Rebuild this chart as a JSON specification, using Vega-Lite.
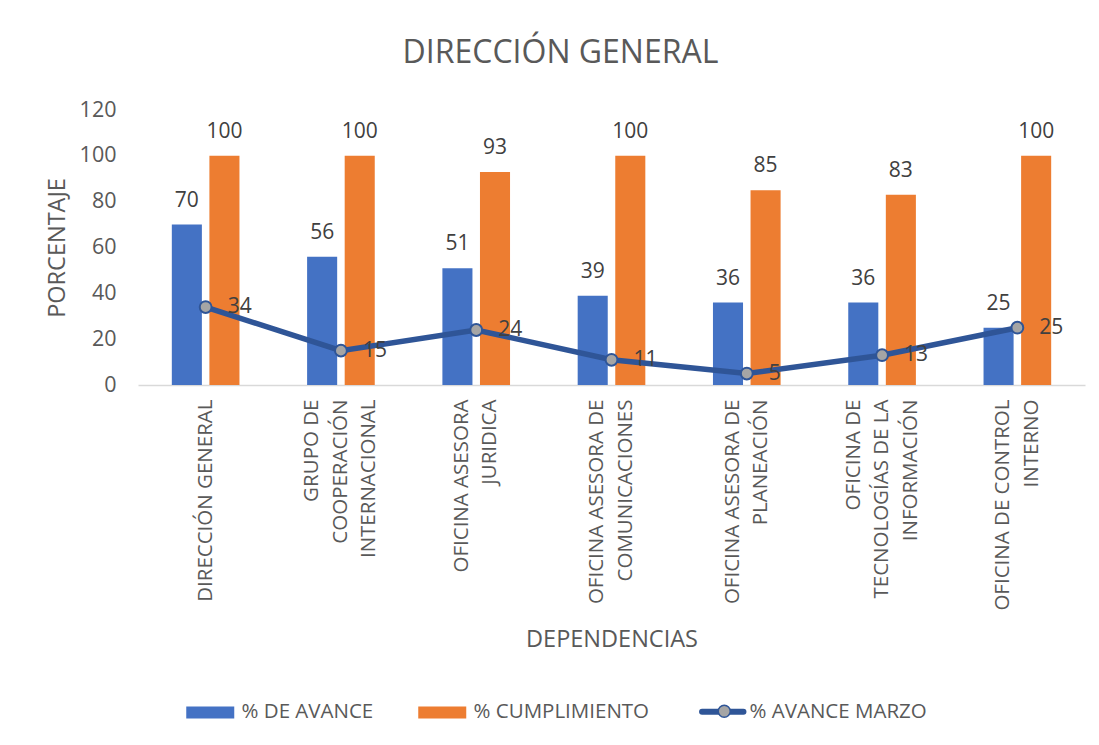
{
  "$schema": "https://vega.github.io/schema/vega-lite/v6.json",
  "width": 947,
  "height": 275,
  "autosize": {"type": "none"},
  "padding": {"left": 138, "top": 110, "right": 14, "bottom": 360},
  "background": "white",
  "config": {"font": "Open Sans", "view": {"stroke": null}},
  "title": {"text": "DIRECCIÓN GENERAL", "fontSize": 32, "fontWeight": "normal", "color": "#595959", "anchor": "middle", "frame": "group", "dx": -51, "offset": 4, "baseline": "alphabetic"},
  "data": {"values": [
    {"dep": "DIRECCIÓN GENERAL", "serie": "% DE AVANCE", "valor": 70},
    {"dep": "DIRECCIÓN GENERAL", "serie": "% CUMPLIMIENTO", "valor": 100},
    {"dep": "DIRECCIÓN GENERAL", "serie": "% AVANCE MARZO", "valor": 34},
    {"dep": "GRUPO DE|COOPERACIÓN|INTERNACIONAL", "serie": "% DE AVANCE", "valor": 56},
    {"dep": "GRUPO DE|COOPERACIÓN|INTERNACIONAL", "serie": "% CUMPLIMIENTO", "valor": 100},
    {"dep": "GRUPO DE|COOPERACIÓN|INTERNACIONAL", "serie": "% AVANCE MARZO", "valor": 15},
    {"dep": "OFICINA ASESORA|JURIDICA", "serie": "% DE AVANCE", "valor": 51},
    {"dep": "OFICINA ASESORA|JURIDICA", "serie": "% CUMPLIMIENTO", "valor": 93},
    {"dep": "OFICINA ASESORA|JURIDICA", "serie": "% AVANCE MARZO", "valor": 24},
    {"dep": "OFICINA ASESORA DE|COMUNICACIONES", "serie": "% DE AVANCE", "valor": 39},
    {"dep": "OFICINA ASESORA DE|COMUNICACIONES", "serie": "% CUMPLIMIENTO", "valor": 100},
    {"dep": "OFICINA ASESORA DE|COMUNICACIONES", "serie": "% AVANCE MARZO", "valor": 11},
    {"dep": "OFICINA ASESORA DE|PLANEACIÓN", "serie": "% DE AVANCE", "valor": 36},
    {"dep": "OFICINA ASESORA DE|PLANEACIÓN", "serie": "% CUMPLIMIENTO", "valor": 85},
    {"dep": "OFICINA ASESORA DE|PLANEACIÓN", "serie": "% AVANCE MARZO", "valor": 5},
    {"dep": "OFICINA DE|TECNOLOGÍAS DE LA|INFORMACIÓN", "serie": "% DE AVANCE", "valor": 36},
    {"dep": "OFICINA DE|TECNOLOGÍAS DE LA|INFORMACIÓN", "serie": "% CUMPLIMIENTO", "valor": 83},
    {"dep": "OFICINA DE|TECNOLOGÍAS DE LA|INFORMACIÓN", "serie": "% AVANCE MARZO", "valor": 13},
    {"dep": "OFICINA DE CONTROL|INTERNO", "serie": "% DE AVANCE", "valor": 25},
    {"dep": "OFICINA DE CONTROL|INTERNO", "serie": "% CUMPLIMIENTO", "valor": 100},
    {"dep": "OFICINA DE CONTROL|INTERNO", "serie": "% AVANCE MARZO", "valor": 25}
  ]},
  "encoding": {
    "x": {
      "field": "dep", "type": "nominal", "sort": null,
      "scale": {"paddingInner": 0.5, "paddingOuter": 0.25},
      "axis": {
        "title": "DEPENDENCIAS", "labelAngle": -90, "labelExpr": "split(datum.label, '|')",
        "labelFontSize": 20.5, "labelColor": "#595959", "labelLineHeight": 28.5, "labelPadding": 14,
        "labelOffset": {"expr": "-(length(split(datum.value, '|')) - 1) * 14.25"},
        "labelLimit": 400, "ticks": false, "domainColor": "#D9D9D9", "domainWidth": 1.5,
        "titleFontSize": 23.5, "titleColor": "#595959", "titleFontWeight": "normal", "titlePadding": 42
      }
    },
    "y": {
      "field": "valor", "type": "quantitative",
      "scale": {"domain": [0, 120]},
      "axis": {
        "title": "PORCENTAJE", "values": [0, 20, 40, 60, 80, 100, 120], "grid": false, "domain": false, "ticks": false,
        "labelFontSize": 21.5, "labelColor": "#595959", "labelPadding": 22,
        "titleFontSize": 23.5, "titleColor": "#595959", "titleFontWeight": "normal", "titlePadding": 10
      }
    }
  },
  "layer": [
    {
      "transform": [{"filter": "datum.serie !== '% AVANCE MARZO'"}],
      "mark": {"type": "bar"},
      "encoding": {
        "xOffset": {"field": "serie", "type": "nominal", "sort": ["% DE AVANCE", "% CUMPLIMIENTO"], "scale": {"paddingInner": 0.2, "paddingOuter": 0}},
        "color": {
          "field": "serie", "type": "nominal",
          "scale": {"domain": ["% DE AVANCE", "% CUMPLIMIENTO", "% AVANCE MARZO"], "range": ["#4472C4", "#ED7D31", "#2F5597"]},
          "legend": {
            "orient": "none", "legendX": 44, "legendY": 591, "direction": "horizontal", "title": null,
            "labelFontSize": 20.5, "labelColor": "#595959", "labelLimit": 400, "symbolSize": 144, "labelOffset": 39,
            "columnPadding": 40, "padding": 0,
            "encode": {"symbols": {"update": {
              "shape": {"signal": "datum.value === '% AVANCE MARZO' ? 'M0.3,0H7.2' : 'M-1,-1H7V1H-1Z'"},
              "fill": {"signal": "datum.value === '% AVANCE MARZO' ? 'transparent' : (datum.value === '% DE AVANCE' ? '#4472C4' : '#ED7D31')"},
              "stroke": {"signal": "datum.value === '% AVANCE MARZO' ? '#2F5597' : 'transparent'"},
              "strokeWidth": {"signal": "datum.value === '% AVANCE MARZO' ? 6 : 0"},
              "strokeCap": {"value": "round"},
              "opacity": {"value": 1},
              "fillOpacity": {"value": 1}
            }}}
          }
        }
      }
    },
    {
      "transform": [{"filter": "datum.serie !== '% AVANCE MARZO'"}],
      "mark": {"type": "text", "baseline": "alphabetic", "dy": -18, "fontSize": 21, "color": "#404040"},
      "encoding": {
        "xOffset": {"field": "serie", "type": "nominal", "sort": ["% DE AVANCE", "% CUMPLIMIENTO"]},
        "text": {"field": "valor", "type": "quantitative"}
      }
    },
    {
      "transform": [{"filter": "datum.serie === '% AVANCE MARZO'"}],
      "mark": {"type": "line", "strokeWidth": 5.5},
      "encoding": {
        "color": {"field": "serie", "type": "nominal"}
      }
    },
    {
      "transform": [{"filter": "datum.serie === '% AVANCE MARZO'"}],
      "mark": {"type": "point", "filled": true, "fill": "#A5A5A5", "stroke": "#2F5597", "strokeWidth": 2, "size": 140, "opacity": 1},
      "encoding": {
        "shape": {
          "field": "serie", "type": "nominal",
          "scale": {"domain": ["% AVANCE MARZO"], "range": ["circle"]},
          "legend": {
            "orient": "none", "legendX": 576, "legendY": 591, "title": null, "zindex": 2,
            "labelFontSize": 20.5, "labelColor": "transparent", "labelExpr": "''", "labelLimit": 400, "symbolSize": 144, "labelOffset": 39, "padding": 0,
            "encode": {"symbols": {"update": {
              "shape": {"value": "M2.43,0A0.9,0.9 0 1,0 4.23,0A0.9,0.9 0 1,0 2.43,0Z"},
              "fill": {"value": "#A5A5A5"}, "stroke": {"value": "#2F5597"}, "strokeWidth": {"value": 2},
              "opacity": {"value": 1}, "fillOpacity": {"value": 1}
            }}}
          }
        }
      }
    },
    {
      "transform": [{"filter": "datum.serie === '% AVANCE MARZO'"}],
      "mark": {"type": "text", "align": "left", "baseline": "middle", "dx": 22, "fontSize": 21, "color": "#404040"},
      "encoding": {
        "text": {"field": "valor", "type": "quantitative"}
      }
    }
  ]
}
